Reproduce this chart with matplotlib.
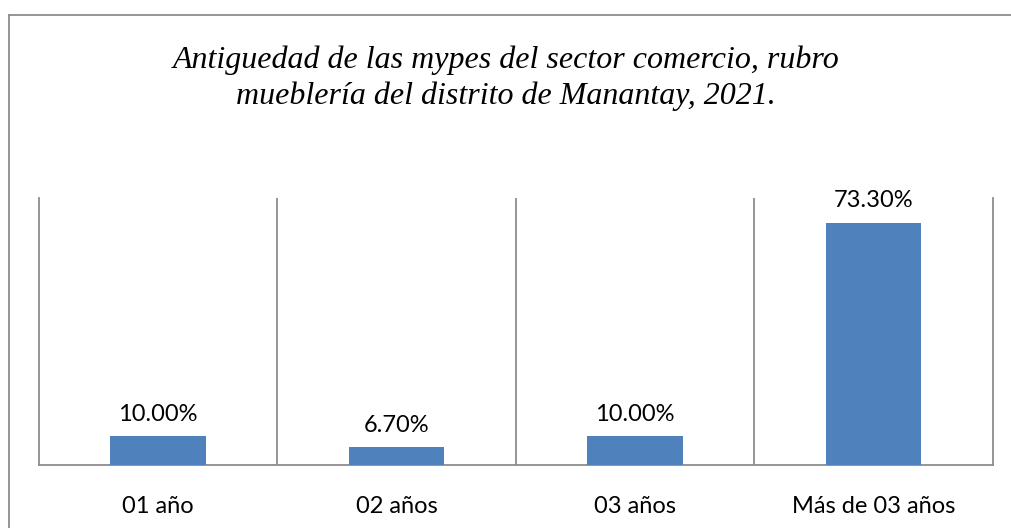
import matplotlib
matplotlib.use("Agg")
import matplotlib.pyplot as plt
from matplotlib.lines import Line2D

categories = ["01 año", "02 años", "03 años", "Más de 03 años"]
values = [10.0, 6.7, 10.0, 73.3]
labels = ["10.00%", "6.70%", "10.00%", "73.30%"]
title = "Antiguedad de las mypes del sector comercio, rubro\nmueblería del distrito de Manantay, 2021."

W, H = 1012, 528
fig = plt.figure(figsize=(W / 100, H / 100), dpi=100)
fig.patch.set_facecolor("white")

gray = "#8C8C8C"
# outer border (only top and left visible in the crop)
fig.add_artist(Line2D([9.5 / W, 1.0], [(H - 14.5) / H, (H - 14.5) / H],
                      transform=fig.transFigure, color=gray, linewidth=1.3))
fig.add_artist(Line2D([9.5 / W, 9.5 / W], [0.0, (H - 14.5) / H],
                      transform=fig.transFigure, color=gray, linewidth=1.3))

ax = fig.add_axes([38.5 / W, (H - 465) / H, (993 - 38.5) / W, (465 - 198) / H])
x = list(range(len(categories)))
ax.bar(x, values, width=0.4, color="#4F81BD", zorder=3)
ax.set_xlim(-0.5, len(categories) - 0.5)
ax.set_ylim(1.4, 80.6)
ax.set_yticks([])
ax.set_xticks(x)
ax.set_xticklabels(categories, fontsize=17, family=["Lato", "DejaVu Sans"])
ax.tick_params(axis="x", length=0, pad=22)
ax.set_xticks([i + 0.5 for i in x[:-1]], minor=True)
ax.tick_params(axis="x", which="minor", length=0)
ax.grid(axis="x", which="minor", color=gray, linewidth=1.3)
ax.spines["top"].set_visible(False)
for s in ["left", "right", "bottom"]:
    ax.spines[s].set_color(gray)
    ax.spines[s].set_linewidth(1.3)

for xi, v, lab in zip(x, values, labels):
    ax.annotate(lab, (xi, v), xytext=(0, 11), textcoords="offset points",
                ha="center", va="baseline", fontsize=17,
                family=["Lato", "DejaVu Sans"])

fig.text(0.5, (H - 78) / H, title, ha="center", va="center", fontsize=23,
         family="Liberation Serif", style="italic", linespacing=1.3)

fig.savefig("out.png", dpi=100)
